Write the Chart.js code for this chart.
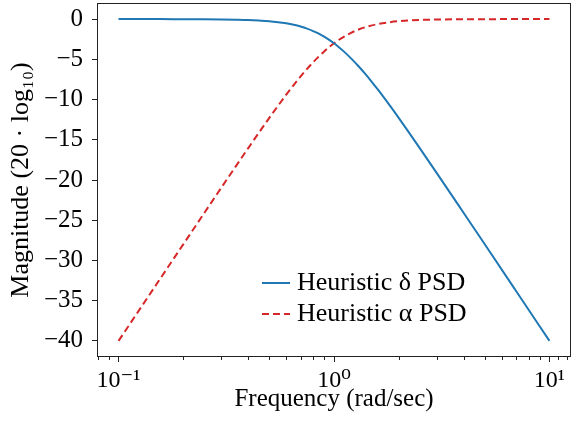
<!DOCTYPE html>
<html lang="en">
<head>
    <meta charset="UTF-8">
    <title>Heuristic PSD</title>
    <script src="https://cdn.jsdelivr.net/npm/chart.js"></script>
    <style>
        body { margin: 0; background: #fff; }
        .chart-container { position: relative; width: 576px; height: 439px; }
    </style>
</head>
<body>
    <div class="chart-container">
        <canvas id="psdChart"></canvas>
    </div>

    <script>
        // --- Data ---
        // Frequency points (rad/sec)
        const freq = [0.1, 0.15, 0.2, 0.25, 0.3, 0.35, 0.4, 0.45, 0.5, 0.55, 0.6, 0.65, 0.7, 0.75, 0.8, 0.85, 0.9, 0.95,
                      1.0, 1.05, 1.1, 1.2, 1.3, 1.4, 1.5, 1.6, 1.8, 2, 2.5, 3, 4, 5, 7, 10];
        // Heuristic delta PSD (blue, solid), dB
        const deltaPsd = [0, 0, -0.01, -0.02, -0.04, -0.07, -0.11, -0.18, -0.26, -0.38, -0.53, -0.71, -0.93, -1.19, -1.49, -1.82, -2.19, -2.59,
                          -3.01, -3.46, -3.92, -4.88, -5.86, -6.85, -7.83, -8.78, -10.61, -12.3, -16.03, -19.14, -24.1, -27.96, -33.8, -40.0];
        // Heuristic alpha PSD (red, dashed), dB
        const alphaPsd = [-40.0, -32.96, -27.97, -24.1, -20.95, -18.3, -16.03, -14.05, -12.3, -10.77, -9.4, -8.2, -7.13, -6.19, -5.37, -4.65, -4.02, -3.48,
                          -3.01, -2.61, -2.27, -1.71, -1.3, -1.0, -0.78, -0.62, -0.4, -0.26, -0.11, -0.05, -0.02, -0.01, 0, 0];

        // Tick positions and labels
        const xMajorTicks = [0.1, 1, 10];
        const xMajorLabels = ['10\u207B\u00B9', '10\u2070', '10\u00B9'];
        const xMinorTicks = [0.08, 0.09, 0.2, 0.3, 0.4, 0.5, 0.6, 0.7, 0.8, 0.9, 2, 3, 4, 5, 6, 7, 8, 9, 11, 12];
        const yTicks = [-40, -35, -30, -25, -20, -15, -10, -5, 0];

        const seriesLabels = ['Heuristic \u03B4 PSD', 'Heuristic \u03B1 PSD'];
        const blue = '#1f77b4';
        const red = '#d62728';
        const serif = "'Liberation Serif', 'DejaVu Serif', serif";

        const deltaData = freq.map((f, i) => ({ x: f, y: deltaPsd[i] }));
        const alphaData = freq.map((f, i) => ({ x: f, y: alphaPsd[i] }));

        // Box around the plot area + minor x ticks
        const framePlugin = {
            id: 'frame',
            afterDraw(chart) {
                const { ctx, chartArea: a } = chart;
                const xs = chart.scales.x;
                ctx.save();
                ctx.strokeStyle = '#222';
                ctx.lineWidth = 1;
                ctx.strokeRect(a.left + 0.5, a.top + 0.5, a.right - a.left - 1, a.bottom - a.top - 1);
                ctx.beginPath();
                xMinorTicks.forEach(v => {
                    const px = Math.round(xs.getPixelForValue(v)) + 0.5;
                    ctx.moveTo(px, a.bottom);
                    ctx.lineTo(px, a.bottom + 3);
                });
                ctx.stroke();
                ctx.restore();
            }
        };

        // Legend drawn inside the axes
        const legendPlugin = {
            id: 'innerLegend',
            afterDatasetsDraw(chart) {
                const { ctx, chartArea: a } = chart;
                const x0 = a.left + 165, lineLen = 28, gap = 7;
                const rows = [a.top + 280, a.top + 311];
                const styles = [{ color: blue, dash: [] }, { color: red, dash: [7, 4] }];
                ctx.save();
                ctx.font = '26px ' + serif;
                ctx.textBaseline = 'middle';
                ctx.fillStyle = '#000';
                rows.forEach((y, i) => {
                    ctx.strokeStyle = styles[i].color;
                    ctx.lineWidth = 2;
                    ctx.setLineDash(styles[i].dash);
                    ctx.beginPath();
                    ctx.moveTo(x0, y);
                    ctx.lineTo(x0 + lineLen, y);
                    ctx.stroke();
                    ctx.fillText(seriesLabels[i], x0 + lineLen + gap, y);
                });
                ctx.restore();
            }
        };

        const config = {
            type: 'line',
            data: {
                datasets: [
                    {
                        label: seriesLabels[0],
                        data: deltaData,
                        borderColor: blue,
                        borderWidth: 2,
                        pointRadius: 0,
                        fill: false,
                        cubicInterpolationMode: 'monotone'
                    },
                    {
                        label: seriesLabels[1],
                        data: alphaData,
                        borderColor: red,
                        borderWidth: 2,
                        borderDash: [7, 4],
                        pointRadius: 0,
                        fill: false,
                        cubicInterpolationMode: 'monotone'
                    }
                ]
            },
            options: {
                responsive: true,
                maintainAspectRatio: false,
                animation: false,
                layout: { padding: { left: 0, right: 5, top: 3, bottom: 0 } },
                plugins: {
                    legend: { display: false },
                    tooltip: { enabled: false }
                },
                scales: {
                    x: {
                        type: 'logarithmic',
                        min: Math.pow(10, -1.1),
                        max: Math.pow(10, 1.1),
                        afterBuildTicks: axis => { axis.ticks = xMajorTicks.map(v => ({ value: v })); },
                        afterFit: axis => { axis.height = 82; axis.paddingLeft = 0; axis.paddingRight = 0; },
                        border: { display: false },
                        grid: { drawOnChartArea: false, drawTicks: true, tickLength: 5, tickColor: '#222' },
                        ticks: {
                            autoSkip: false,
                            maxRotation: 0,
                            padding: 4,
                            color: '#000',
                            font: { family: serif, size: 24 },
                            callback: (value) => {
                                const i = xMajorTicks.indexOf(value);
                                return i >= 0 ? xMajorLabels[i] : '';
                            }
                        },
                        title: {
                            display: true,
                            text: 'Frequency (rad/sec)',
                            color: '#000',
                            font: { family: serif, size: 25 },
                            padding: { top: 0, bottom: 25 }
                        }
                    },
                    y: {
                        type: 'linear',
                        min: -42,
                        max: 2,
                        afterBuildTicks: axis => { axis.ticks = yTicks.map(v => ({ value: v })); },
                        afterFit: axis => { axis.width = 97; axis.paddingTop = 0; axis.paddingBottom = 0; },
                        border: { display: false },
                        grid: { drawOnChartArea: false, drawTicks: true, tickLength: 5, tickColor: '#222' },
                        ticks: {
                            padding: 9,
                            color: '#000',
                            font: { family: serif, size: 25 },
                            callback: (value) => value < 0 ? '\u2212' + Math.abs(value) : String(value)
                        },
                        title: {
                            display: true,
                            text: 'Magnitude (20 \u00B7 log\u2081\u2080)',
                            color: '#000',
                            font: { family: serif, size: 26 },
                            padding: { top: 6, bottom: 0 }
                        }
                    }
                }
            },
            plugins: [framePlugin, legendPlugin]
        };

        new Chart(document.getElementById('psdChart').getContext('2d'), config);
    </script>
</body>
</html>
